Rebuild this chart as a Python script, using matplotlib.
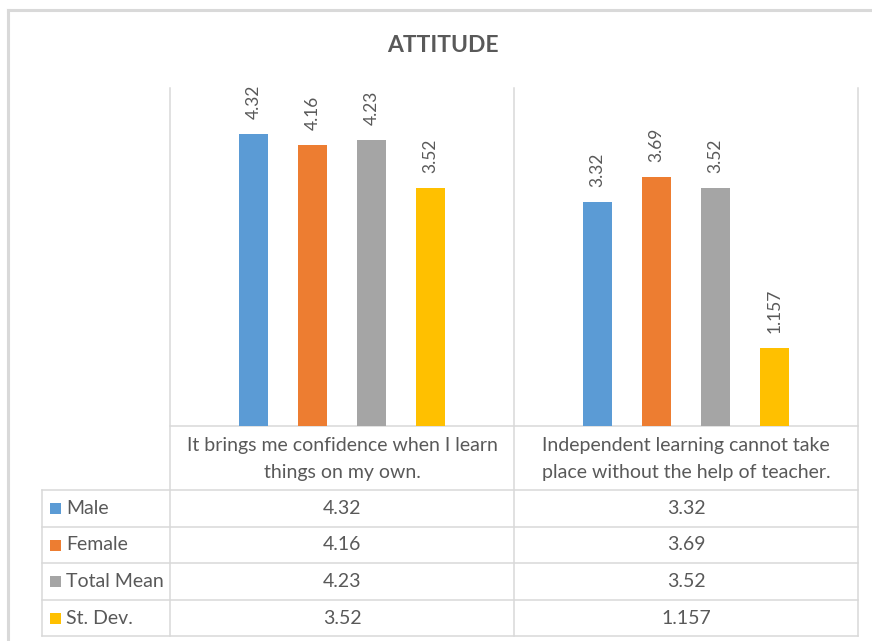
import matplotlib
matplotlib.use("Agg")
import matplotlib.pyplot as plt
from matplotlib.patches import Rectangle

# ---- data ----
categories = ["It brings me confidence when I learn\nthings on my own.",
              "Independent learning cannot take\nplace without the help of teacher."]
series_names = ["Male", "Female", "Total Mean", "St. Dev."]
male = [4.32, 3.32]
female = [4.16, 3.69]
total_mean = [4.23, 3.52]
st_dev = [3.52, 1.157]
title = "ATTITUDE"

series_values = [male, female, total_mean, st_dev]
colors = ["#5B9BD5", "#ED7D31", "#A5A5A5", "#FFC000"]
text_color = "#595959"
line_color = "#D9D9D9"
font = "Lato"
fs = 14

W, H = 872, 641
fig = plt.figure(figsize=(W / 100, H / 100), dpi=100)
fig.patch.set_facecolor("white")


def fx(x):
    return x / W


def fy(y):
    return 1 - y / H


# overlay axes in pixel coordinates for table / frame
ov = fig.add_axes([0, 0, 1, 1])
ov.set_xlim(0, W)
ov.set_ylim(H, 0)
ov.axis("off")

# chart frame
ov.plot([8, W], [10, 10], color=line_color, lw=2.2)
ov.plot([8, 8], [10, H], color=line_color, lw=2.2)

# bar axes
left, right, top, bottom = 170, 858, 88, 426
ax = fig.add_axes([fx(left), fy(bottom), (right - left) / W, (bottom - top) / H])
ax.set_xlim(-0.5, len(categories) - 0.5)
ax.set_ylim(0, 5)
ax.axis("off")
ax.patch.set_alpha(0)

pitch = 0.1715
width = 0.087
n = len(series_values)
for i, (vals, c) in enumerate(zip(series_values, colors)):
    xs = [k + (i - (n - 1) / 2) * pitch for k in range(len(categories))]
    ax.bar(xs, vals, width=width, color=c, zorder=3)
    for x, v in zip(xs, vals):
        ax.annotate(f"{v:g}", (x, v), xytext=(0, 10.5), textcoords="offset points",
                    rotation=90, ha="center", va="bottom", fontsize=12.5,
                    color=text_color, family=font)

# title
ov.text((8 + W) / 2 + 3, 46, title, ha="center", va="center", fontsize=16.5,
        fontweight="bold", color=text_color, family=font)

# table grid
cat_w = (right - left) / len(categories)
bounds = [left + k * cat_w for k in range(len(categories) + 1)]
row_y = [490, 527, 563, 600, 636]
table_left = 42

for b in bounds:
    ov.plot([b, b], [top, row_y[-1]], color=line_color, lw=1.1)
ov.plot([left, right], [bottom, bottom], color=line_color, lw=1.1)
for yy in row_y:
    ov.plot([table_left, right], [yy, yy], color=line_color, lw=1.1)
ov.plot([table_left, table_left], [row_y[0], row_y[-1]], color=line_color, lw=1.1)

# category labels
for k, cat in enumerate(categories):
    cx = bounds[k] + cat_w / 2
    ov.text(cx, (bottom + row_y[0]) / 2 + 1, cat, ha="center", va="center",
            fontsize=fs, color=text_color, family=font, linespacing=1.75)

# rows
for r, (name, vals, c) in enumerate(zip(series_names, series_values, colors)):
    y0, y1 = row_y[r], row_y[r + 1]
    cy = (y0 + y1) / 2
    ov.add_patch(Rectangle((50, cy - 5.5), 11, 11, color=c, lw=0))
    ov.text(66, cy, name, ha="left", va="center", fontsize=fs,
            color=text_color, family=font)
    for k, v in enumerate(vals):
        cx = bounds[k] + cat_w / 2
        ov.text(cx, cy, f"{v:g}", ha="center", va="center", fontsize=fs,
                color=text_color, family=font)

fig.savefig("out.png", dpi=100)
